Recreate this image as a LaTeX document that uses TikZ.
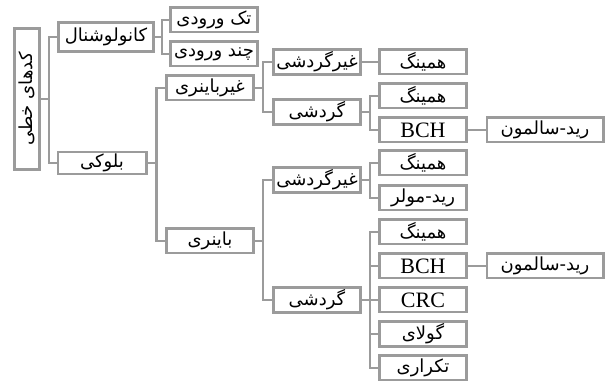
\documentclass[tikz,border=0pt]{standalone}
\usepackage{fontspec}
\usepackage{tikz}
\setmainfont{Liberation Serif}
\newfontfamily\farsi[Script=Arabic]{DejaVu Sans}
\TeXXeTstate=1
\newcommand{\fa}[1]{{\farsi\beginR #1\endR}}
\definecolor{linegray}{RGB}{155,155,155}

\begin{document}
\begin{tikzpicture}[x=0.5pt, y=-0.5pt,
  box/.style={draw=linegray, line width=1.3pt, fill=white, inner sep=1pt,
    minimum width=43.5pt, minimum height=12.2pt, font=\fontsize{9}{10}\selectfont},
  latin/.style={box, font=\fontsize{11}{12}\selectfont},
  wide/.style={box, minimum width=58.2pt},
  link/.style={draw=linegray, line width=1.3pt}]
\useasboundingbox (0,0) rectangle (605,383);

% Root
\node[box, rotate=90, minimum width=70.7pt, minimum height=12.7pt] (root) at (27,99) {\fa{کدهای خطی}};

% First level
\node[box, minimum width=47.7pt, minimum height=14.7pt] (kanv) at (106,37) {\fa{کانولوشنال}};
\node[box, minimum width=44.2pt, minimum height=9.7pt] (bloki) at (102,163) {\fa{بلوکی}};

% Second level
\node[box] (tak) at (214,20) {\fa{تک ورودی}};
\node[box] (chand) at (214,54) {\fa{چند ورودی}};
\node[box] (gbin) at (210,88) {\fa{غیرباینری}};
\node[box] (bin) at (210,241) {\fa{باینری}};

% Third level
\node[box] (ggard1) at (317,62) {\fa{غیرگردشی}};
\node[box] (gard1) at (317,112) {\fa{گردشی}};
\node[box] (ggard2) at (317,180) {\fa{غیرگردشی}};
\node[box] (gard2) at (317,300) {\fa{گردشی}};

% Fourth level
\node[box] (ham1) at (423,62) {\fa{همینگ}};
\node[box] (ham2) at (423,96) {\fa{همینگ}};
\node[latin] (bch1) at (423,130) {BCH};
\node[box] (ham3) at (423,163) {\fa{همینگ}};
\node[box] (rmul) at (423,198) {\fa{رید-مولر}};
\node[box] (ham4) at (423,232) {\fa{همینگ}};
\node[latin] (bch2) at (423,266) {BCH};
\node[latin] (crc) at (423,300) {CRC};
\node[box] (golay) at (423,334) {\fa{گولای}};
\node[box] (tekr) at (423,368) {\fa{تکراری}};

% Fifth level
\node[wide] (rs1) at (545,130) {\fa{رید-سالمون}};
\node[wide] (rs2) at (545,266) {\fa{رید-سالمون}};

% Connectors
\foreach \c in {kanv,bloki}
  \draw[link] (root.south) -- ++(8,0) |- (\c.west);
\foreach \c in {tak,chand}
  \draw[link] (kanv.east) -- ++(7,0) |- (\c.west);
\foreach \c in {gbin,bin}
  \draw[link] (bloki.east) -- ++(9,0) |- (\c.west);
\foreach \c in {ggard1,gard1}
  \draw[link] (gbin.east) -- ++(8,0) |- (\c.west);
\foreach \c in {ggard2,gard2}
  \draw[link] (bin.east) -- ++(8,0) |- (\c.west);
\foreach \c in {ham2,bch1}
  \draw[link] (gard1.east) -- ++(8,0) |- (\c.west);
\foreach \c in {ham3,rmul}
  \draw[link] (ggard2.east) -- ++(8,0) |- (\c.west);
\foreach \c in {ham4,bch2,crc,golay,tekr}
  \draw[link] (gard2.east) -- ++(8,0) |- (\c.west);
\draw[link] (ggard1) -- (ham1);
\draw[link] (bch1) -- (rs1);
\draw[link] (bch2) -- (rs2);
\end{tikzpicture}
\end{document}
